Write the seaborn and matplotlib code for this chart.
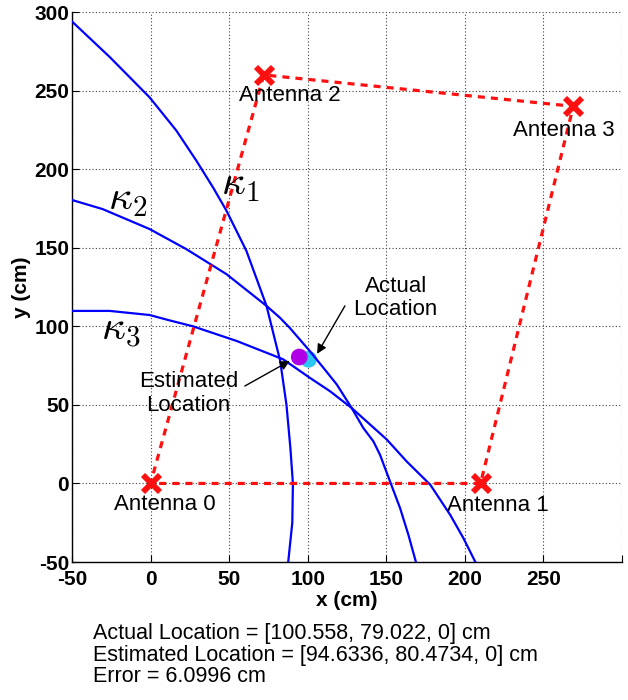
import matplotlib
matplotlib.use("Agg")
import matplotlib.pyplot as plt
import seaborn as sns
import pandas as pd

# ---------------- data ----------------
k1_x = [-50, -26, -0.6, 16.4, 29.1, 40, 48.3, 61, 73.8, 82.5, 86.5, 89, 90.6, 90.2, 87.5]
k1_y = [294, 271.4, 245.7, 224.6, 205.5, 188, 173.6, 148, 113, 78, 50, 22.5, 0, -25, -51]

k2_x = [-50, -30.5, -0.6, 22.8, 48.3, 73.8, 82.3, 88.6, 101.4, 110, 118.5, 128,
        135.4, 141.8, 146, 152.4, 158.8, 164.1, 169.4]
k2_y = [180.4, 174.6, 161.9, 149.1, 133.2, 113, 105.5, 99, 84.2, 73.6, 63, 48,
        35.3, 26.8, 18.3, 1.3, -15.7, -32.7, -51.9]

k3_x = [-50, -26, -0.6, 12, 27, 55, 84.4, 101.4, 114.2, 128, 150.3, 163, 178,
        190.7, 199.2, 207.7]
k3_y = [109.8, 109.8, 107.2, 103.8, 100, 90.6, 79, 67.2, 58.7, 48, 28, 14, -0.8,
        -20, -35, -52]

antenna_names = ["Antenna 0", "Antenna 1", "Antenna 2", "Antenna 3"]
antenna_x = [0, 210, 72, 269]
antenna_y = [0, 0, 260, 240]
link_order = [1, 0, 2, 3, 1]

actual_loc = [100.558, 79.022, 0]
est_loc = [94.6336, 80.4734, 0]
error_cm = 6.0996

curve_labels = [r"$\kappa_1$", r"$\kappa_2$", r"$\kappa_3$"]

xticks = [-50, 0, 50, 100, 150, 200, 250, 300]
xtick_labels = ["-50", "0", "50", "100", "150", "200", "250", ""]
yticks = [-50, 0, 50, 100, 150, 200, 250, 300]
ytick_labels = ["-50", "0", "50", "100", "150", "200", "250", "300"]

# ---------------- layout / style ----------------
sns.set_theme(style="white")
plt.rcParams['font.family'] = ['Liberation Sans', 'DejaVu Sans']
plt.rcParams['mathtext.fontset'] = 'cm'
plt.rcParams['text.color'] = 'black'
plt.rcParams['axes.labelcolor'] = 'black'
plt.rcParams['xtick.color'] = 'black'
plt.rcParams['ytick.color'] = 'black'

fig = plt.figure(figsize=(6.28, 7.0), dpi=100)
ax = fig.add_axes([0.1146, 0.1971, 0.8758, 0.7857])

BLUE = "#0000ff"
RED = "#ff1010"

# location dots
sns.scatterplot(x=[actual_loc[0]], y=[actual_loc[1]], s=145, color="#2cc6f2",
                edgecolor="none", zorder=3, ax=ax, legend=False)
sns.scatterplot(x=[est_loc[0]], y=[est_loc[1]], s=145, color="#b000e8",
                edgecolor="none", zorder=4, ax=ax, legend=False)

# curves
for cx, cy in [(k1_x, k1_y), (k2_x, k2_y), (k3_x, k3_y)]:
    df = pd.DataFrame({"x": cx, "y": cy})
    sns.lineplot(data=df, x="x", y="y", sort=False, estimator=None,
                 color=BLUE, lw=1.6, ax=ax, zorder=5)

# dashed links between antennas
link_df = pd.DataFrame({"x": [antenna_x[i] for i in link_order],
                        "y": [antenna_y[i] for i in link_order]})
sns.lineplot(data=link_df, x="x", y="y", sort=False, estimator=None,
             color=RED, lw=2.3, linestyle=(0, (2.2, 1.9)), ax=ax, zorder=6)

# antenna markers
sns.scatterplot(x=antenna_x, y=antenna_y, marker="x", s=150, color=RED,
                linewidth=4.2, ax=ax, zorder=7, legend=False)

# antenna labels (offsets in pixels -> points)
label_offsets_px = [(14, -21), (17, -22), (26, -21), (-9, -24)]
for name, ax_, ay_, (ox, oy) in zip(antenna_names, antenna_x, antenna_y, label_offsets_px):
    ax.annotate(name, xy=(ax_, ay_), xytext=(ox * 0.72, oy * 0.72),
                textcoords="offset points", ha="center", va="center",
                fontsize=16, color="black", zorder=8)

# curve labels
curve_label_pos = [(57, 190.6), (-14.5, 180.8), (-19.3, 97.4)]
for lbl, (tx, ty) in zip(curve_labels, curve_label_pos):
    ax.text(tx, ty, lbl, fontsize=30, ha="center", va="center", zorder=8,
            color="black")

# location annotations
ax.text(156, 118, "Actual\nLocation", fontsize=16, ha="center", va="center",
        linespacing=1.15, zorder=8, color="black")
ax.annotate("", xy=(106, 82.5), xytext=(123.7, 113),
            arrowprops=dict(arrowstyle="-|>", color="black", lw=1.0,
                            mutation_scale=14, shrinkA=0, shrinkB=0), zorder=8)
ax.text(24, 57.4, "Estimated\nLocation", fontsize=16, ha="center", va="center",
        linespacing=1.2, zorder=8, color="black")
ax.annotate("", xy=(88.6, 78), xytext=(60, 62),
            arrowprops=dict(arrowstyle="-|>", color="black", lw=1.0,
                            mutation_scale=14, shrinkA=0, shrinkB=0), zorder=8)

# axes
ax.set_xlim(-50, 300)
ax.set_ylim(-50, 300)
ax.set_xticks(xticks)
ax.set_xticklabels(xtick_labels, fontweight="bold", fontsize=15)
ax.set_yticks(yticks)
ax.set_yticklabels(ytick_labels, fontweight="bold", fontsize=15)
ax.tick_params(direction="in", length=5, width=0.8, color="black",
               labelcolor="black",
               bottom=True, left=True, top=False, right=False)
ax.tick_params(axis="x", pad=6)
ax.tick_params(axis="y", pad=2)
ax.grid(True, linestyle=(0, (1, 2)), color="0.25", lw=0.8)
ax.set_axisbelow(True)
for s in ["top", "right"]:
    ax.spines[s].set_visible(False)
for s in ["left", "bottom"]:
    ax.spines[s].set_color("black")
    ax.spines[s].set_linewidth(1.0)
ax.set_xlabel("x (cm)", fontsize=15, fontweight="bold", labelpad=1, color="black")
ax.set_ylabel("y (cm)", fontsize=15, fontweight="bold", labelpad=2, color="black")

# summary text
summary = (f"Actual Location = [{actual_loc[0]}, {actual_loc[1]:.3f}, {actual_loc[2]}] cm\n"
           f"Estimated Location = [{est_loc[0]}, {est_loc[1]}, {est_loc[2]}] cm\n"
           f"Error = {error_cm} cm")
fig.text(93 / 628, 1 - 655 / 700, summary, fontsize=15.5, ha="left", va="center",
         linespacing=1.04, color="black")

fig.savefig("out.png", dpi=100)
